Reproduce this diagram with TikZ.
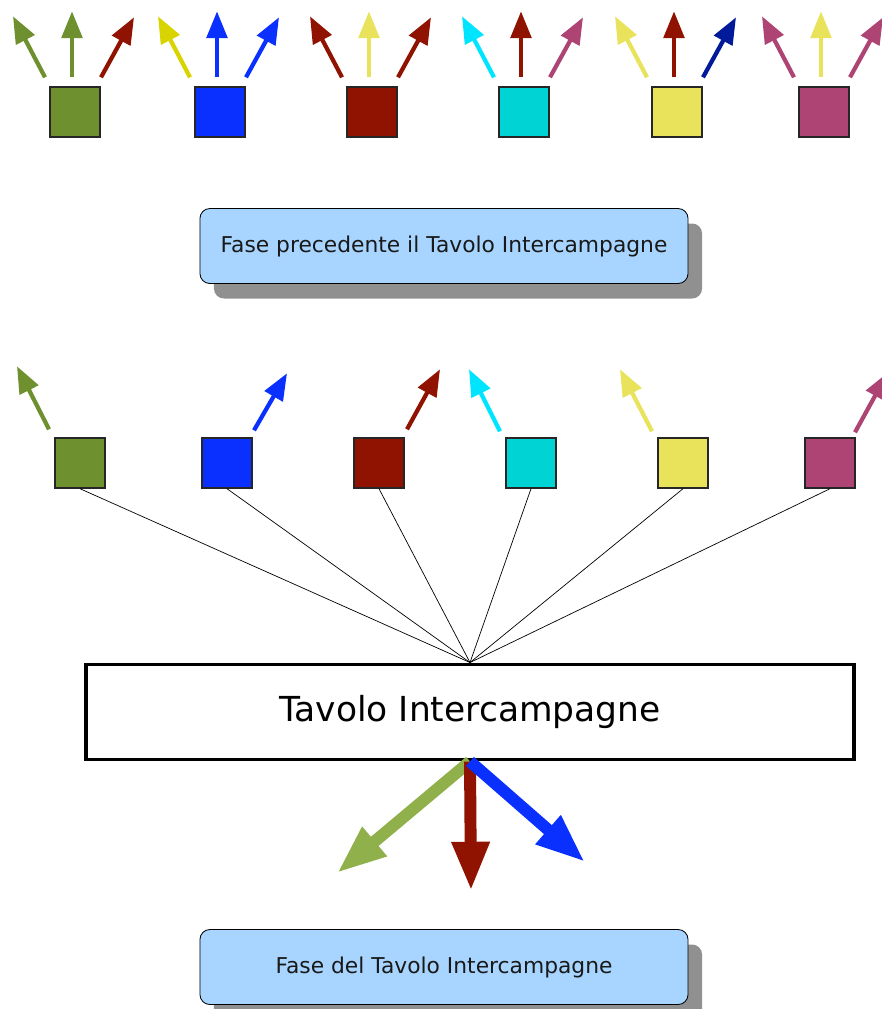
\documentclass[tikz,border=0pt]{standalone}
\usepackage{fontspec}
\setmainfont{DejaVu Sans}
\usepackage{tikz}
\usepackage{xcolor}
\usetikzlibrary{arrows.meta,shadows}

\definecolor{verde}{HTML}{6E902E}
\definecolor{verdechiaro}{HTML}{8FB04B}
\definecolor{blu}{HTML}{0A30FF}
\definecolor{navy}{HTML}{001A99}
\definecolor{rosso}{HTML}{8F1300}
\definecolor{ciano}{HTML}{00D3D3}
\definecolor{cianob}{HTML}{00E5FF}
\definecolor{giallo}{HTML}{E8E35A}
\definecolor{giallob}{HTML}{D8D400}
\definecolor{magenta}{HTML}{AD4474}
\definecolor{azzurro}{HTML}{A8D5FF}
\definecolor{ombra}{HTML}{909090}

\begin{document}
\begin{tikzpicture}[x=0.025cm,y=-0.025cm,
	quad/.style={draw=black!85,line width=1pt,minimum size=1.25cm,inner sep=0pt},
	freccia/.style={line width=3pt,-{Triangle[width=14.5pt,length=19pt]}},
	frecciona/.style={line width=8.5pt,-{Triangle[width=25pt,length=35pt]}},
	fase/.style={draw,line width=0.6pt,rounded corners=0.25cm,fill=azzurro,minimum width=12.2cm,minimum height=1.875cm,
		font=\fontsize{15.5}{18}\selectfont,text=black!90,
		drop shadow={shadow xshift=0.35cm,shadow yshift=-0.375cm,fill=ombra,opacity=1}}]
	\useasboundingbox (0,0) rectangle (882,1009);
	\clip (0,0) rectangle (882,1009);
	% fase precedente
	\node[quad,fill=verde] (a1) at (75,112) {};
	\node[quad,fill=blu] (a2) at (220,112) {};
	\node[quad,fill=rosso] (a3) at (372,112) {};
	\node[quad,fill=ciano] (a4) at (524,112) {};
	\node[quad,fill=giallo] (a5) at (677,112) {};
	\node[quad,fill=magenta] (a6) at (824,112) {};
	\foreach \n/\cs/\cc/\cd in {1/verde/verde/rosso,2/giallob/blu/blu,3/rosso/giallo/rosso,
		4/cianob/rosso/magenta,5/giallo/rosso/navy,6/magenta/giallo/magenta}{
		\draw[freccia,\cs] ([shift={(-30,-9)}]a\n.north) -- ++(-32,-61);
		\draw[freccia,\cc] ([shift={(-3,-9)}]a\n.north) -- ++(0,-66);
		\draw[freccia,\cd] ([shift={(26,-9)}]a\n.north) -- ++(33,-60);
	}
	\node[fase] (prima) at (444,246) {Fase precedente il Tavolo Intercampagne};
	% tavolo
	\node[draw,line width=2.8pt,minimum width=19.2cm,minimum height=2.375cm,
		font=\fontsize{24.5}{28}\selectfont] (tavolo) at (470,712) {\raisebox{-3pt}{Tavolo Intercampagne}};
	\node[quad,fill=verde] (b1) at (80,463) {};
	\node[quad,fill=blu] (b2) at (227,463) {};
	\node[quad,fill=rosso] (b3) at (379,463) {};
	\node[quad,fill=ciano] (b4) at (531,463) {};
	\node[quad,fill=giallo] (b5) at (683,463) {};
	\node[quad,fill=magenta] (b6) at (830,463) {};
	\foreach \n/\c/\sx/\sy/\dx/\dy in {1/verde/-31/-8/-32/-63,2/blu/27/-7/33/-57,3/rosso/28/-8/33/-60,
		4/cianob/-31/-6/-31/-62,5/giallo/-31/-6/-32/-62,6/magenta/25/-5/33/-60}{
		\draw[freccia,\c] ([shift={(\sx,\sy)}]b\n.north) -- ++(\dx,\dy);
		\draw[line width=0.5pt] (b\n.south) -- (tavolo.north);
	}
	\coordinate (fv) at (337,873);
	\coordinate (fr) at (471,891);
	\coordinate (fb) at (585,862);
	\draw[frecciona,verdechiaro] (tavolo.south) -- (fv);
	\draw[frecciona,rosso] (tavolo.south) -- (fr);
	\draw[frecciona,blu] (tavolo.south) -- (fb);
	\node[fase] (durante) at (444,967) {Fase del Tavolo Intercampagne};
\end{tikzpicture}
\end{document}
